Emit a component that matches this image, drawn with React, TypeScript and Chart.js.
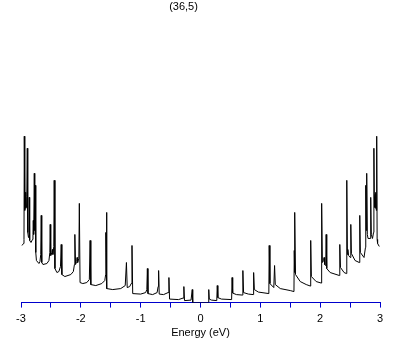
import React, { useEffect, useRef } from 'react';
import { Chart, registerables } from 'chart.js';

Chart.register(...registerables);

// Chart title and axis text
const chartTitle = '(36,5)';
const xAxisTitle = 'Energy (eV)';

// Energy values (eV) of the traced DOS curve
const energies: number[] = [
  -2.983, -2.958, -2.950, -2.945, -2.937, -2.930, -2.923, -2.917, -2.910, -2.903,
  -2.895, -2.887, -2.875, -2.867, -2.862, -2.855, -2.833, -2.808, -2.800, -2.795,
  -2.788, -2.778, -2.770, -2.762, -2.753, -2.742, -2.700, -2.683, -2.670, -2.662,
  -2.653, -2.633, -2.567, -2.533, -2.518, -2.512, -2.503, -2.483, -2.475, -2.467,
  -2.452, -2.445, -2.433, -2.400, -2.367, -2.340, -2.328, -2.317, -2.267, -2.167,
  -2.125, -2.107, -2.100, -2.088, -2.070, -2.063, -2.053, -2.033, -2.025, -2.013,
  -1.967, -1.900, -1.858, -1.845, -1.833, -1.750, -1.650, -1.600, -1.585, -1.582,
  -1.577, -1.572, -1.563, -1.467, -1.333, -1.258, -1.238, -1.225, -1.183, -1.158,
  -1.145, -1.133, -1.000, -0.917, -0.897, -0.888, -0.878, -0.800, -0.725, -0.708,
  -0.700, -0.690, -0.617, -0.542, -0.528, -0.517, -0.367, -0.292, -0.278, -0.267,
  -0.158, -0.138, -0.130,
  0.130, 0.138, 0.147, 0.183, 0.272, 0.280, 0.290, 0.350, 0.520, 0.528,
  0.538, 0.600, 0.703, 0.708, 0.720, 0.800, 0.883, 0.888, 0.900, 0.967,
  1.142, 1.148, 1.160, 1.225, 1.238, 1.250, 1.333, 1.500, 1.562, 1.567,
  1.572, 1.577, 1.588, 1.667, 1.767, 1.837, 1.842, 1.853, 1.933, 2.018,
  2.025, 2.037, 2.058, 2.065, 2.075, 2.093, 2.100, 2.110, 2.167, 2.322,
  2.328, 2.340, 2.400, 2.438, 2.445, 2.455, 2.463, 2.475, 2.503, 2.512,
  2.522, 2.583, 2.653, 2.662, 2.672, 2.733, 2.757, 2.762, 2.770, 2.778,
  2.788, 2.800, 2.838, 2.845, 2.855, 2.875, 2.892, 2.898, 2.905, 2.912,
  2.918, 2.925, 2.932, 2.938, 2.945, 2.952, 2.960, 2.988,
];

// Density of states (arbitrary units) at each energy above
const dos: number[] = [
  5.7, 5.9, 6.3, 16.6, 9.2, 11.0, 9.4, 10.8, 9.5, 10.6,
  15.4, 7.0, 6.5, 6.8, 10.5, 6.2, 6.0, 6.3, 6.8, 8.2,
  6.8, 12.9, 7.2, 11.7, 5.0, 4.2, 3.9, 4.1, 4.8, 8.7,
  4.0, 3.8, 3.9, 4.2, 5.0, 7.8, 4.7, 5.0, 5.3, 4.8,
  5.6, 12.2, 3.4, 3.0, 3.1, 3.6, 5.8, 2.8, 2.6, 2.8,
  3.1, 3.8, 6.8, 3.8, 4.1, 4.5, 4.0, 4.4, 9.9, 2.0,
  1.9, 2.0, 2.3, 6.2, 1.8, 1.7, 1.9, 2.2, 2.8, 7.0,
  5.0, 9.0, 1.4, 1.3, 1.4, 1.7, 4.0, 1.5, 1.6, 1.9,
  5.7, 0.9, 0.85, 1.0, 1.3, 3.4, 0.9, 0.8, 1.0, 1.6,
  3.2, 0.85, 0.8, 1.0, 2.5, 0.35, 0.3, 0.45, 1.6, 0.2,
  0.25, 1.3, 0,
  0, 1.3, 0.35, 0.25, 0.2, 1.7, 0.5, 0.35, 0.3, 2.5,
  0.95, 0.8, 0.75, 3.2, 1.0, 0.85, 0.8, 3.0, 1.3, 1.05,
  0.9, 5.7, 1.9, 1.5, 3.7, 1.8, 1.4, 1.2, 1.1, 5.2,
  3.0, 9.0, 2.8, 2.1, 1.8, 1.65, 6.2, 2.6, 2.1, 1.95,
  9.9, 4.0, 4.2, 4.5, 3.8, 3.7, 6.8, 3.4, 3.0, 2.7,
  5.8, 3.5, 3.0, 2.9, 12.2, 4.8, 5.3, 4.7, 4.5, 7.8,
  4.9, 4.2, 4.0, 8.7, 5.0, 4.5, 5.5, 11.7, 7.2, 12.9,
  6.8, 6.4, 6.4, 10.5, 6.8, 6.4, 7.0, 15.4, 10.6, 9.5,
  10.8, 9.4, 11.0, 9.2, 16.6, 6.3, 5.9, 5.6,
];

const xMin = -3;
const xMax = 3;
const xStep = 0.5;
const yMax = 28;

const FONT = "'Liberation Sans', Arial, sans-serif";

export default function App() {
  const canvasRef = useRef<HTMLCanvasElement | null>(null);

  useEffect(() => {
    const canvas = canvasRef.current;
    if (!canvas) return;
    const points = energies.map((e, i) => ({ x: e, y: dos[i] }));
    const chart = new Chart(canvas, {
      type: 'line',
      data: {
        datasets: [
          {
            data: points,
            borderColor: '#000000',
            borderWidth: 1,
            pointRadius: 0,
            tension: 0,
            fill: false,
          },
        ],
      },
      options: {
        animation: false,
        responsive: false,
        maintainAspectRatio: false,
        layout: { padding: { left: 21, right: 29, top: 22, bottom: 5 } },
        plugins: {
          legend: { display: false },
          tooltip: { enabled: false },
          title: { display: false },
        },
        scales: {
          x: {
            type: 'linear',
            min: xMin,
            max: xMax,
            ticks: {
              stepSize: xStep,
              autoSkip: false,
              maxRotation: 0,
              color: '#000000',
              padding: 5,
              font: { family: FONT, size: 11 },
              callback: (v: any) => (Number.isInteger(Number(v)) ? String(v) : ''),
            },
            grid: {
              display: true,
              drawOnChartArea: false,
              drawTicks: true,
              tickLength: 5,
              color: '#0000cc',
              lineWidth: 1,
            },
            border: { display: true, color: '#0000cc', width: 1 },
            title: {
              display: true,
              text: xAxisTitle,
              color: '#000000',
              font: { family: FONT, size: 11 },
              padding: { top: -4, bottom: 0 },
            },
          },
          y: { display: false, min: 0, max: yMax },
        },
      },
    });
    return () => chart.destroy();
  }, []);

  return (
    <div style={{ position: 'absolute', left: 0, top: 0, width: 409, height: 345, background: '#fff' }}>
      <canvas ref={canvasRef} width={409} height={345} style={{ position: 'absolute', left: 0, top: 0 }} />
      <div
        style={{
          position: 'absolute',
          left: 0,
          top: 0,
          width: 367,
          textAlign: 'center',
          fontFamily: FONT,
          fontSize: 11,
          lineHeight: '13px',
          color: '#000',
        }}
      >
        {chartTitle}
      </div>
    </div>
  );
}
